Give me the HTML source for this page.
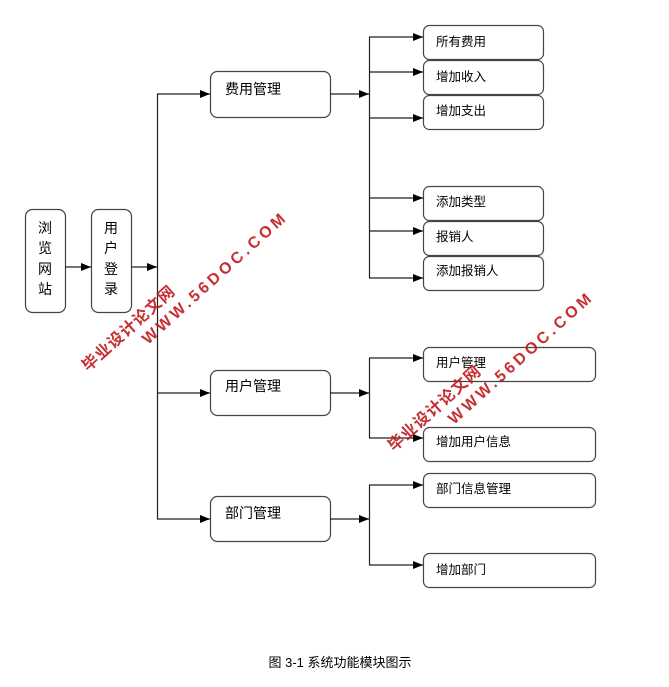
<!DOCTYPE html>
<html><head><meta charset="utf-8"><style>
body{margin:0;background:#fff;}
text{font-family:"Liberation Sans","Noto Sans CJK SC",sans-serif;}
</style></head><body>
<svg width="669" height="682" xmlns="http://www.w3.org/2000/svg">
<defs><marker id="a" markerWidth="10" markerHeight="8" refX="10" refY="4" orient="auto" markerUnits="userSpaceOnUse"><path d="M0,0 L10,4 L0,8 z" fill="#000"/></marker></defs>
<g fill="#fff" stroke="#444" stroke-width="1.2">
<rect x="25.5" y="209.5" width="40" height="103" rx="7"/>
<rect x="91.5" y="209.5" width="40" height="103" rx="7"/>
<rect x="210.5" y="71.5" width="120" height="46" rx="7"/>
<rect x="210.5" y="370.5" width="120" height="45" rx="7"/>
<rect x="210.5" y="496.5" width="120" height="45" rx="7"/>
<rect x="423.5" y="25.5" width="120" height="34" rx="6"/>
<rect x="423.5" y="60.5" width="120" height="34" rx="6"/>
<rect x="423.5" y="95.5" width="120" height="34" rx="6"/>
<rect x="423.5" y="186.5" width="120" height="34" rx="6"/>
<rect x="423.5" y="221.5" width="120" height="34" rx="6"/>
<rect x="423.5" y="256.5" width="120" height="34" rx="6"/>
<rect x="423.5" y="347.5" width="172" height="34" rx="6"/>
<rect x="423.5" y="427.5" width="172" height="34" rx="6"/>
<rect x="423.5" y="473.5" width="172" height="34" rx="6"/>
<rect x="423.5" y="553.5" width="172" height="34" rx="6"/>
</g>
<g stroke="#222" stroke-width="1.2" fill="none">
<line x1="65" y1="267" x2="91" y2="267" marker-end="url(#a)"/>
<line x1="131" y1="267" x2="157" y2="267" marker-end="url(#a)"/>
<line x1="157.5" y1="94" x2="157.5" y2="519"/>
<line x1="157" y1="94" x2="210" y2="94" marker-end="url(#a)"/>
<line x1="157" y1="393" x2="210" y2="393" marker-end="url(#a)"/>
<line x1="157" y1="519" x2="210" y2="519" marker-end="url(#a)"/>
<line x1="330" y1="94" x2="369" y2="94" marker-end="url(#a)"/>
<line x1="369.5" y1="37" x2="369.5" y2="278"/>
<line x1="369" y1="37" x2="423" y2="37" marker-end="url(#a)"/>
<line x1="369" y1="72" x2="423" y2="72" marker-end="url(#a)"/>
<line x1="369" y1="118" x2="423" y2="118" marker-end="url(#a)"/>
<line x1="369" y1="198" x2="423" y2="198" marker-end="url(#a)"/>
<line x1="369" y1="231" x2="423" y2="231" marker-end="url(#a)"/>
<line x1="369" y1="278" x2="423" y2="278" marker-end="url(#a)"/>
<line x1="330" y1="393" x2="369" y2="393" marker-end="url(#a)"/>
<line x1="369.5" y1="358" x2="369.5" y2="438"/>
<line x1="369" y1="358" x2="423" y2="358" marker-end="url(#a)"/>
<line x1="369" y1="438" x2="423" y2="438" marker-end="url(#a)"/>
<line x1="330" y1="519" x2="369" y2="519" marker-end="url(#a)"/>
<line x1="369.5" y1="485" x2="369.5" y2="565"/>
<line x1="369" y1="485" x2="423" y2="485" marker-end="url(#a)"/>
<line x1="369" y1="565" x2="423" y2="565" marker-end="url(#a)"/>
</g>
<g font-size="14" fill="#000" text-anchor="middle">
<text x="45" y="233">浏</text><text x="45" y="253">览</text><text x="45" y="274">网</text><text x="45" y="294">站</text>
<text x="111" y="233">用</text><text x="111" y="253">户</text><text x="111" y="274">登</text><text x="111" y="294">录</text>
</g>
<g font-size="14" fill="#000">
<text x="225" y="94">费用管理</text>
<text x="225" y="391">用户管理</text>
<text x="225" y="518">部门管理</text>
</g>
<g font-size="12.5" fill="#000">
<text x="436" y="46">所有费用</text>
<text x="436" y="81">增加收入</text>
<text x="436" y="115">增加支出</text>
<text x="436" y="206">添加类型</text>
<text x="436" y="241">报销人</text>
<text x="436" y="275">添加报销人</text>
<text x="436" y="367">用户管理</text>
<text x="436" y="446">增加用户信息</text>
<text x="436" y="493">部门信息管理</text>
<text x="436" y="574">增加部门</text>
</g>
<text x="340" y="667" font-size="13" text-anchor="middle" fill="#000">图 3-1 系统功能模块图示</text>
<g fill="#c0181c" font-weight="bold" font-size="16" opacity="0.9">
<text transform="translate(88,372) rotate(-42)" letter-spacing="1">毕业设计论文网</text>
<text transform="translate(148,345) rotate(-42)" letter-spacing="3.5">WWW.56DOC.COM</text>
<text transform="translate(394,452) rotate(-42)" letter-spacing="1">毕业设计论文网</text>
<text transform="translate(454,425) rotate(-42)" letter-spacing="3.5">WWW.56DOC.COM</text>
</g>
</svg>
</body></html>
